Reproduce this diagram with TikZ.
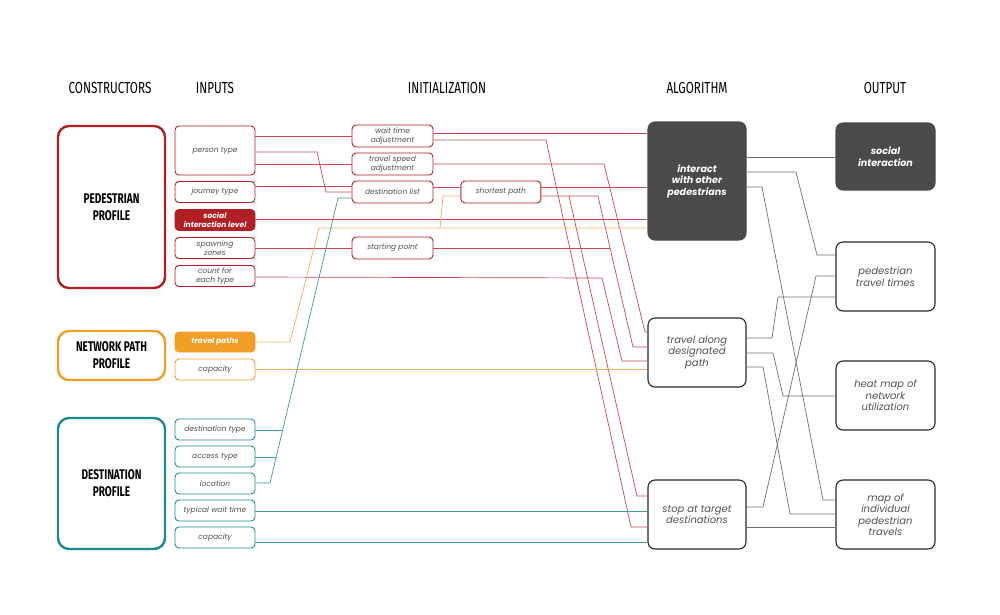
\documentclass[tikz,border=0pt]{standalone}
\usepackage{fontspec}
\setmainfont{Poppins}
\newfontfamily\headfont[FakeStretch=0.73]{Fira Sans}
\newfontfamily\proffont[FakeStretch=0.72]{Fira Sans}
\usetikzlibrary{positioning,calc}
\definecolor{pedred}{HTML}{B01F24}
\definecolor{redline}{HTML}{C04A50}
\definecolor{netorange}{HTML}{F09E28}
\definecolor{orangeline}{HTML}{F4B06A}
\definecolor{destteal}{HTML}{1C8B8B}
\definecolor{tealline}{HTML}{3C9A9A}
\definecolor{darkbox}{HTML}{4A4A4A}
\definecolor{grayline}{HTML}{6E6E6E}
\definecolor{txtgray}{HTML}{505050}
\tikzset{
  heading/.style={
    font=\headfont\fontsize{16}{18}\selectfont,
    text=black
  },
  profile/.style={
    draw,
    line width=2.4pt,
    rectangle,
    rounded corners=11pt,
    minimum width=107pt,
    inner sep=0pt,
    align=center,
    font=\proffont\bfseries\fontsize{14}{17}\selectfont,
  },
  inbox/.style={
    draw,
    line width=0.9pt,
    rectangle,
    rounded corners=4pt,
    minimum width=80pt,
    minimum height=21pt,
    inner sep=0pt,
    align=center,
    text=txtgray,
    font=\itshape\fontsize{7.5}{9.5}\selectfont,
  },
  algbox/.style={
    draw=black!85,
    line width=1.1pt,
    rectangle,
    rounded corners=7pt,
    minimum width=98pt,
    minimum height=69pt,
    inner sep=0pt,
    align=center,
    text=txtgray,
    font=\itshape\fontsize{10}{11.5}\selectfont,
  },
  darkfill/.style={
    fill=darkbox,
    draw=darkbox,
    text=white,
    font=\bfseries\itshape\fontsize{9.6}{11.5}\selectfont,
  },
  redlink/.style={draw=redline, line width=0.7pt},
  orangelink/.style={draw=orangeline, line width=0.8pt},
  teallink/.style={draw=tealline, line width=0.7pt},
  graylink/.style={draw=grayline, line width=0.7pt}
}

\begin{document}
\begin{tikzpicture}[x=1pt, y=-1pt]

    \useasboundingbox (0,0) rectangle (1000,614);

    % column titles
    \node [heading] (hcons) at (110,88) {CONSTRUCTORS};
    \node [heading] (hin) at (215,88) {INPUTS};
    \node [heading] (hinit) at (447,88) {INITIALIZATION};
    \node [heading] (halg) at (697,88) {ALGORITHM};
    \node [heading] (hout) at (885,88) {OUTPUT};

    % constructors
    \node [profile, draw=pedred, minimum height=162pt] (pedprof) at (111.5,207) {PEDESTRIAN\\PROFILE};
    \node [profile, draw=netorange, minimum height=49pt] (netprof) at (111.5,355.5) {NETWORK PATH\\PROFILE};
    \node [profile, draw=destteal, minimum height=131pt] (destprof) at (111.5,483.5) {DESTINATION\\PROFILE};

    % inputs
    \node [inbox, draw=pedred, minimum height=49pt] (ptype) at (215,150.5) {person type};
    \node [inbox, draw=pedred] (jtype) at (215,192) {journey type};
    \node [inbox, draw=pedred, fill=pedred, text=white, font=\bfseries\itshape\fontsize{7.5}{8.8}\selectfont] (social) at (215,220) {social\\interaction level};
    \node [inbox, draw=pedred] (spawn) at (215,248) {spawning\\zones};
    \node [inbox, draw=pedred] (count) at (215,276) {count for\\each type};

    \node [inbox, draw=netorange, fill=netorange, text=white, minimum height=20pt, font=\bfseries\itshape\fontsize{7.5}{9}\selectfont] (tpaths) at (215,342) {travel paths};
    \node [inbox, draw=netorange] (ncap) at (215,369.5) {capacity};

    \node [inbox, draw=destteal] (dtype) at (215,429.5) {destination type};
    \node [inbox, draw=destteal] (atype) at (215,456.5) {access type};
    \node [inbox, draw=destteal] (loc) at (215,483.5) {location};
    \node [inbox, draw=destteal] (twait) at (215,510.5) {typical wait time};
    \node [inbox, draw=destteal] (dcap) at (215,537.5) {capacity};

    % initialization
    \node [inbox, draw=pedred, minimum width=81pt, minimum height=22pt] (wta) at (392.5,136) {wait time\\adjustment};
    \node [inbox, draw=pedred, minimum width=81pt, minimum height=22pt] (tsa) at (392.5,164) {travel speed\\adjustment};
    \node [inbox, draw=pedred, minimum width=81pt, minimum height=22pt] (dlist) at (392.5,192) {destination list};
    \node [inbox, draw=pedred, minimum width=81pt, minimum height=22pt] (spoint) at (392.5,248) {starting point};
    \node [inbox, draw=pedred, minimum height=22pt, right=27pt of dlist] (spath) {shortest path};

    % algorithm
    \node [algbox, darkfill, minimum height=118pt] (interact) at (697,181) {interact\\with other\\pedestrians};
    \node [algbox] (travel) at (697,352.5) {travel along\\designated\\path};
    \node [algbox] (stop) at (697,514.5) {stop at target\\destinations};

    % output
    \node [algbox, darkfill, minimum width=99pt, minimum height=67pt] (osocial) at (885.5,156.5) {social\\interaction};
    \node [algbox, minimum width=99pt] (otimes) at (885.5,276.5) {pedestrian\\travel times};
    \node [algbox, minimum width=99pt] (oheat) at (885.5,395.5) {heat map of\\network\\utilization};
    \node [algbox, minimum width=99pt] (omap) at (885.5,514.5) {map of\\individual\\pedestrian\\travels};

    % junctions on shared lines
    \coordinate (spfork) at (569,196);
    \coordinate (spjoin) at (610.05,248);
    \coordinate (orfork) at (440,228);
    \coordinate (dtjoin) at (282.7,430);
    \coordinate (atjoin) at (276.2,457);

    % pedestrian links
    \draw [redlink] (ptype.east |- 0,136) -- (wta.west |- 0,136);
    \draw [redlink] (ptype.east |- 0,152) -- (317,152) -- (326,192) -- (dlist.west |- 0,192);
    \draw [redlink] (ptype.east |- 0,164) -- (tsa.west |- 0,164);
    \draw [redlink] (jtype.east |- 0,186) -- (dlist.west |- 0,186);
    \draw [redlink] (social.east |- 0,219) -- (interact.west |- 0,219);
    \draw [redlink] (spawn.east |- 0,248) -- (spoint.west |- 0,248);
    \draw [redlink] (count.east |- 0,277) -- (602,278) -- (622,361) -- (travel.west |- 0,361);

    \draw [redlink] (wta.east |- 0,133) -- (interact.west |- 0,133);
    \draw [redlink] (wta.east |- 0,140) -- (546,140) -- (631,527) -- (stop.west |- 0,527);
    \draw [redlink] (tsa.east |- 0,164) -- (604,164) -- (645,332) -- (travel.west |- 0,332);
    \draw [redlink] (dlist.east |- 0,187) -- (spath.west |- 0,187);
    \draw [redlink] (spath.east |- 0,187) -- (interact.west |- 0,187);
    \draw [redlink] (spath.east |- 0,196) -- (598,196) -- (633,347) -- (travel.west |- 0,347);
    \draw [redlink] (spfork) -- (637,496) -- (stop.west |- 0,496);
    \draw [redlink] (spoint.east |- 0,248) -- (spjoin);

    % network path links
    \draw [orangelink] (tpaths.east |- 0,342) -- (290,342) -- (319,228) -- (interact.west |- 0,228);
    \draw [orangelink] (orfork) -- (443,196) -- (spath.west |- 0,196);
    \draw [orangelink] (ncap.east |- 0,369) -- (travel.west |- 0,369);

    % destination links
    \draw [teallink] (loc.east |- 0,483) -- (270,483) -- (338,198) -- (dlist.west |- 0,198);
    \draw [teallink] (dtype.east |- 0,430) -- (dtjoin);
    \draw [teallink] (atype.east |- 0,457) -- (atjoin);
    \draw [teallink] (twait.east |- 0,511) -- (stop.west |- 0,511);
    \draw [teallink] (dcap.east |- 0,542) -- (stop.west |- 0,542);

    % algorithm to output
    \draw [graylink] (interact.east |- 0,157) -- (osocial.west |- 0,157);
    \draw [graylink] (interact.east |- 0,172) -- (796,172) -- (817,255) -- (otimes.west |- 0,255);
    \draw [graylink] (interact.east |- 0,187) -- (762,187) -- (823,500) -- (omap.west |- 0,500);
    \draw [graylink] (travel.east |- 0,338) -- (772,338) -- (778,297) -- (otimes.west |- 0,297);
    \draw [graylink] (travel.east |- 0,353) -- (773,353) -- (783,396) -- (oheat.west |- 0,396);
    \draw [graylink] (travel.east |- 0,367) -- (763,367) -- (790,514) -- (omap.west |- 0,514);
    \draw [graylink] (stop.east |- 0,507) -- (763,507) -- (816,276) -- (otimes.west |- 0,276);
    \draw [graylink] (stop.east |- 0,527) -- (omap.west |- 0,527);
  \end{tikzpicture}
\end{document}
